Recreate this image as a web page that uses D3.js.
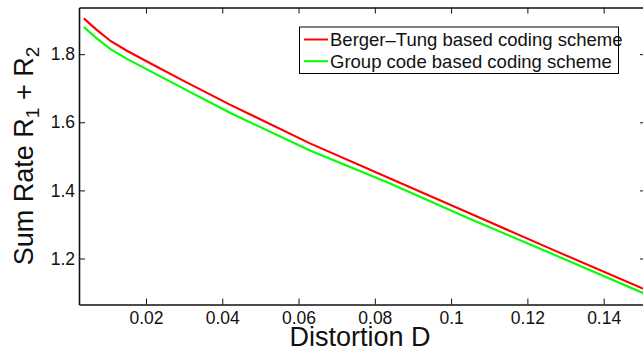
<!DOCTYPE html>
<html>
<head>
<meta charset="utf-8">
<script src="https://cdn.jsdelivr.net/npm/d3@7"></script>
<style>
  body { margin: 0; background: #fff; }
  svg { display: block; font-family: "Liberation Sans", Arial, sans-serif; }
</style>
</head>
<body>
<div id="chart"></div>
<script>
// distortion values (x) and sum rates for the two schemes
const distortion = [0.0037, 0.007, 0.0108, 0.015, 0.021, 0.03, 0.042, 0.063, 0.084, 0.105, 0.126, 0.1511];
const bergerTung = [1.905, 1.872, 1.838, 1.810, 1.774, 1.721, 1.652, 1.538, 1.435, 1.332, 1.229, 1.108];
const groupCode  = [1.880, 1.847, 1.814, 1.786, 1.751, 1.698, 1.628, 1.517, 1.420, 1.316, 1.216, 1.095];
const xTicks = [0.02, 0.04, 0.06, 0.08, 0.1, 0.12, 0.14];
const yTicks = [1.2, 1.4, 1.6, 1.8];
const seriesNames = ["Berger\u2013Tung based coding scheme", "Group code based coding scheme"];
const seriesColors = ["#ff0000", "#00ff00"];

const W = 643, H = 349;
const margin = { top: 7.5, left: 79, right: -3, bottom: 44.5 };
const width = W - margin.left - margin.right;
const height = H - margin.top - margin.bottom;

const svg = d3.select("#chart").append("svg")
  .attr("width", W).attr("height", H);

const x = d3.scaleLinear().domain([0.00244, 0.1511]).range([0, width]);
const y = d3.scaleLinear().domain([1.065, 1.937]).range([height, 0]);

const g = svg.append("g")
  .attr("transform", `translate(${margin.left},${margin.top})`);

// lines
const series = [bergerTung, groupCode];
const line = d3.line()
  .x(d => x(d[0]))
  .y(d => y(d[1]));
series.forEach((vals, i) => {
  g.append("path")
    .datum(distortion.map((dv, k) => [dv, vals[k]]))
    .attr("fill", "none")
    .attr("stroke", seriesColors[i])
    .attr("stroke-width", 2.1)
    .attr("d", line);
});

// axes, ticks pointing inward
const fmt = d => String(d);
function styleAxis(sel, fs) {
  sel.selectAll("path.domain").attr("stroke", "#111").attr("stroke-width", 1.6);
  sel.selectAll(".tick line").attr("stroke", "#111").attr("stroke-width", 1);
  sel.selectAll("text").attr("fill", "#111").style("font-size", fs + "px")
    .style("font-family", '"Liberation Sans", Arial, sans-serif');
}
g.append("g")
  .attr("transform", `translate(0,${height})`)
  .call(d3.axisBottom(x).tickValues(xTicks).tickFormat(fmt).tickSizeInner(-6).tickSizeOuter(0).tickPadding(7))
  .call(s => styleAxis(s, 17.5));
g.append("g")
  .call(d3.axisTop(x).tickValues(xTicks).tickFormat("").tickSizeInner(-6).tickSizeOuter(0))
  .call(s => styleAxis(s, 17.5));
g.append("g")
  .call(d3.axisLeft(y).tickValues(yTicks).tickFormat(fmt).tickSizeInner(-6).tickSizeOuter(0).tickPadding(4))
  .call(s => styleAxis(s, 17.5));
g.append("g")
  .attr("transform", `translate(${width},0)`)
  .call(d3.axisRight(y).tickValues(yTicks).tickFormat("").tickSizeInner(-6).tickSizeOuter(0))
  .call(s => styleAxis(s, 17.5));

// axis titles
svg.append("text")
  .attr("x", margin.left + x(0.0761)).attr("y", 346)
  .attr("text-anchor", "middle")
  .style("font-size", "27px").attr("fill", "#111")
  .text("Distortion D");

const yl = svg.append("text")
  .attr("transform", `translate(33,${margin.top + height / 2}) rotate(-90)`)
  .attr("text-anchor", "middle")
  .style("font-size", "27px").attr("fill", "#111");
yl.append("tspan").text("Sum Rate R");
yl.append("tspan").attr("dy", 6).style("font-size", "19px").text("1");
yl.append("tspan").attr("dy", -6).text(" + R");
yl.append("tspan").attr("dy", 6).style("font-size", "19px").text("2");

// legend
const lg = svg.append("g").attr("transform", "translate(299.5,27)");
lg.append("rect")
  .attr("width", 319).attr("height", 46.5)
  .attr("fill", "#fff").attr("stroke", "#000").attr("stroke-width", 1);
seriesNames.forEach((name, i) => {
  const ly = 12.5 + i * 21.7;
  lg.append("line")
    .attr("x1", 4.5).attr("x2", 28.5).attr("y1", ly).attr("y2", ly)
    .attr("stroke", seriesColors[i]).attr("stroke-width", 2);
  lg.append("text")
    .attr("x", 30.5).attr("y", ly + 6.5)
    .style("font-size", "18.5px").attr("fill", "#111")
    .text(name);
});
</script>
</body>
</html>
